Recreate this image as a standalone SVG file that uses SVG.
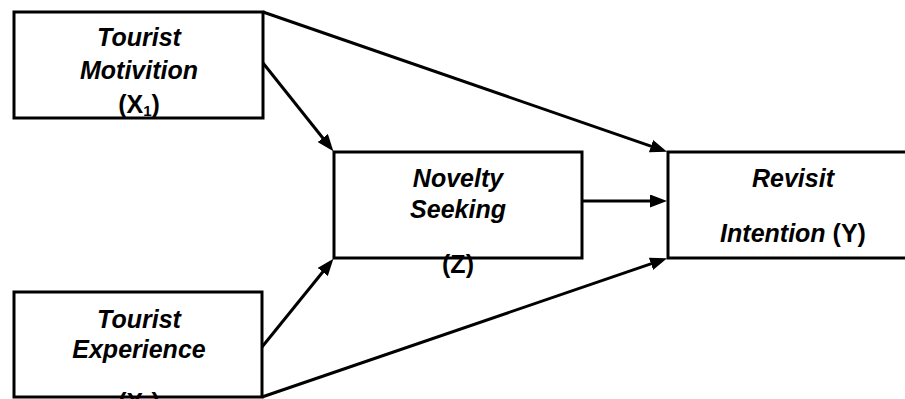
<svg xmlns="http://www.w3.org/2000/svg" width="905" height="399" viewBox="0 0 905 399">
  <style>
    .box { fill: #ffffff; stroke: #000000; stroke-width: 3; }
    .conn { stroke: #000000; stroke-width: 3; fill: none; marker-end: url(#arrow); }
    text { font-family: "Liberation Sans", Arial, sans-serif; font-size: 25px; font-weight: bold; fill: #000000; text-anchor: middle; }
    .it { font-style: italic; }
    .sub { font-size: 15px; }
  </style>
  <defs>
    <marker id="arrow" markerUnits="userSpaceOnUse" markerWidth="17" markerHeight="13" refX="9" refY="6.5" orient="auto">
      <path d="M0,0 L17,6.5 L0,13 z" fill="#000000"/>
    </marker>
  </defs>
  <rect width="905" height="399" fill="#ffffff"/>
  <g id="node-motivation">
    <rect class="box" x="14" y="12" width="249" height="106"/>
    <text class="it" x="139" y="46">Tourist</text>
    <text class="it" x="139" y="79">Motivition</text>
    <text x="139" y="113">(X<tspan class="sub" dy="3">1</tspan><tspan dy="-3">)</tspan></text>
  </g>
  <g id="node-experience">
    <rect class="box" x="14" y="292" width="248" height="105"/>
    <text class="it" x="139" y="328">Tourist</text>
    <text class="it" x="139" y="358">Experience</text>
    <text x="139" y="411">(X<tspan class="sub" dy="3">2</tspan><tspan dy="-3">)</tspan></text>
  </g>
  <g id="node-novelty">
    <rect class="box" x="334" y="152" width="248" height="106"/>
    <text class="it" x="458" y="187">Novelty</text>
    <text class="it" x="458" y="218">Seeking</text>
    <text x="458" y="273">(Z)</text>
  </g>
  <g id="node-revisit">
    <rect class="box" x="668" y="152" width="260" height="106"/>
    <text class="it" x="793" y="187">Revisit</text>
    <text x="793" y="242"><tspan class="it">Intention</tspan> (Y)</text>
  </g>
  <g id="connectors">
    <line class="conn" x1="263" y1="12" x2="659.5" y2="149.1"/>
    <line class="conn" x1="263" y1="63" x2="328.4" y2="145"/>
    <line class="conn" x1="262" y1="347" x2="328.4" y2="265"/>
    <line class="conn" x1="262" y1="397" x2="659.5" y2="260.9"/>
    <line class="conn" x1="582" y1="201" x2="659" y2="201"/>
  </g>
</svg>
